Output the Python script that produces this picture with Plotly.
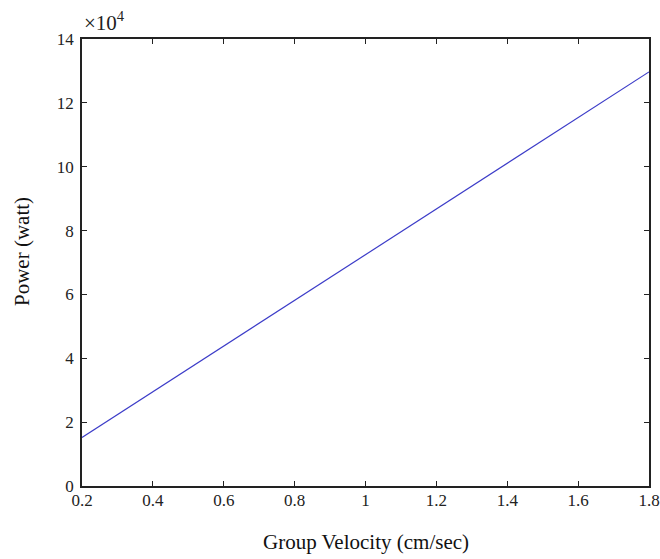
import plotly.graph_objects as go

velocity = [0.2, 0.6, 1.0, 1.4, 1.8]
power_watt = [15200, 43800, 72500, 101100, 129700]
x_ticks = [0.2, 0.4, 0.6, 0.8, 1.0, 1.2, 1.4, 1.6, 1.8]
x_tick_text = ["0.2", "0.4", "0.6", "0.8", "1", "1.2", "1.4", "1.6", "1.8"]
y_ticks = [0, 20000, 40000, 60000, 80000, 100000, 120000, 140000]
y_tick_text = ["0", "2", "4", "6", "8", "10", "12", "14"]

font = "Liberation Serif, Times New Roman, serif"

fig = go.Figure()
fig.add_trace(go.Scatter(x=velocity, y=power_watt, mode="lines",
                         line=dict(color="#3c3cc8", width=1.2), showlegend=False))

axis_common = dict(showgrid=False, zeroline=False, showline=True, linecolor="#222222",
                   linewidth=1.5, mirror="ticks", ticks="inside", ticklen=5,
                   tickcolor="#222222", tickwidth=1, automargin=False,
                   tickfont=dict(family=font, size=17, color="#222222"))

fig.update_layout(
    width=660, height=559,
    margin=dict(l=82, r=11, t=39, b=73),
    paper_bgcolor="white", plot_bgcolor="white",
    xaxis=dict(range=[0.2, 1.8], tickvals=x_ticks, ticktext=x_tick_text,
               ticklabelstandoff=-2, **axis_common),
    yaxis=dict(range=[0, 140000], tickvals=y_ticks, ticktext=y_tick_text,
               ticklabelstandoff=3, **axis_common),
    annotations=[
        dict(text="×10<sup>4</sup>", xref="paper", yref="paper", x=0.0, y=1.04,
             xanchor="left", yanchor="middle", showarrow=False,
             font=dict(family=font, size=21, color="#222222")),
        dict(text="Group Velocity (cm/sec)", xref="paper", yref="paper", x=0.5, y=-0.1253,
             xanchor="center", yanchor="middle", showarrow=False,
             font=dict(family=font, size=21, color="#111111")),
        dict(text="Power (watt)", xref="paper", yref="paper", x=-0.1058, y=0.5235,
             xanchor="center", yanchor="middle", showarrow=False, textangle=-90,
             font=dict(family=font, size=21, color="#111111")),
    ],
)

fig.write_html("out.html")
